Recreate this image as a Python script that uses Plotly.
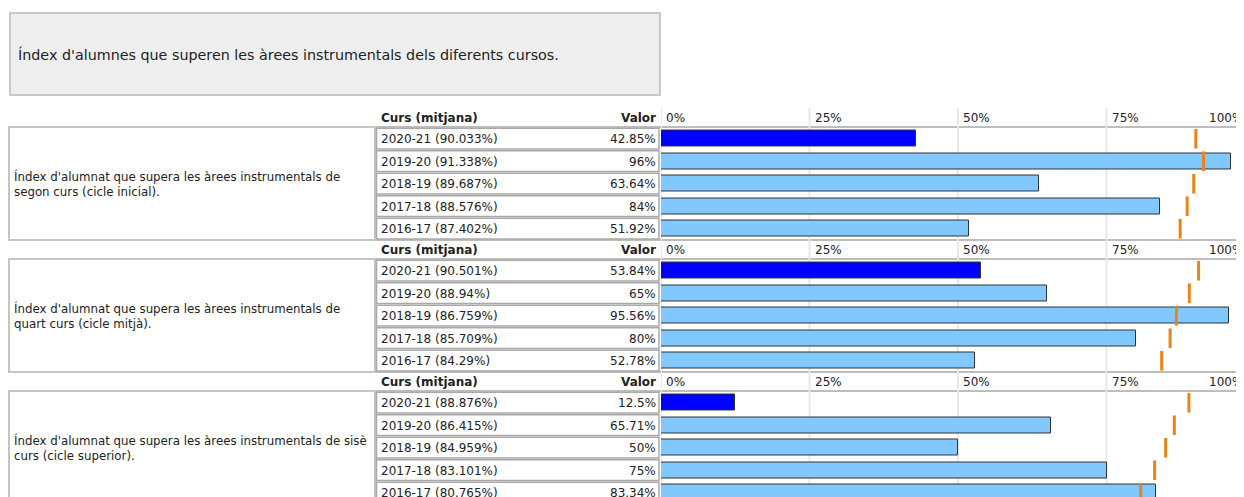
import plotly.graph_objects as go

# the page body has an 8px margin, so the figure is sized to fit the window
OFF = 8
SCREEN_W, SCREEN_H = 1244, 497
W, H = SCREEN_W - OFF, SCREEN_H - OFF

title_text = "Índex d'alumnes que superen les àrees instrumentals dels diferents cursos."
group_labels = [
    "Índex d'alumnat que supera les àrees instrumentals de<br>segon curs (cicle inicial).",
    "Índex d'alumnat que supera les àrees instrumentals de<br>quart curs (cicle mitjà).",
    "Índex d'alumnat que supera les àrees instrumentals de sisè<br>curs (cicle superior).",
]
years = ["2020-21", "2019-20", "2018-19", "2017-18", "2016-17"]
values_g1 = [42.85, 96, 63.64, 84, 51.92]
means_g1 = [90.033, 91.338, 89.687, 88.576, 87.402]
values_g2 = [53.84, 65, 95.56, 80, 52.78]
means_g2 = [90.501, 88.94, 86.759, 85.709, 84.29]
values_g3 = [12.5, 65.71, 50, 75, 83.34]
means_g3 = [88.876, 86.415, 84.959, 83.101, 80.765]
tick_vals = [0, 25, 50, 75, 100]
tick_text = ["0%", "25%", "50%", "75%", "100%"]
header_curs = "Curs (mitjana)"
header_valor = "Valor"

groups = [(values_g1, means_g1), (values_g2, means_g2), (values_g3, means_g3)]

FONT = "DejaVu Sans"
FS = 12
TXT = "#222222"
DARK_BLUE = "#0000ff"
LIGHT_BLUE = "#80c8ff"
ORANGE = "#e8841a"

# layout geometry (screen pixels)
X0_PX = 661.0          # 0% position
PX_PER_100 = 594.0     # pixels for 100%
ROW_P = 22.5           # row pitch
GROUP_P = 132.0
ROWS_TOP = 127.5       # top of first group's data rows


def px(x):
    return (x - OFF) / W


def py(y):
    return 1 - (y - OFF) / H


fig = go.Figure()
shapes = []
annotations = []

xmax = (SCREEN_W - X0_PX) / PX_PER_100 * 100

layout_axes = {}
for g, (vals, means) in enumerate(groups):
    top = ROWS_TOP + GROUP_P * g
    bottom = min(top + 5 * ROW_P, SCREEN_H)
    yname = "y" if g == 0 else f"y{g+1}"
    yax = "yaxis" if g == 0 else f"yaxis{g+1}"
    layout_axes[yax] = dict(
        domain=[max(py(bottom), 0), py(top)],
        range=[-0.5 + (bottom - top) / ROW_P, -0.5],
        type="category",
        categoryorder="array",
        categoryarray=years,
        visible=False,
        fixedrange=True,
    )
    colors = [DARK_BLUE] + [LIGHT_BLUE] * (len(years) - 1)
    fig.add_trace(go.Bar(
        x=vals, y=years, orientation="h", xaxis="x", yaxis=yname,
        marker=dict(color=colors, line=dict(color="#333333", width=1)),
        width=0.72, showlegend=False, hoverinfo="skip",
    ))
    fig.add_trace(go.Scatter(
        x=means, y=years, mode="markers", xaxis="x", yaxis=yname,
        marker=dict(symbol="line-ns", size=14, line=dict(color=ORANGE, width=3)),
        showlegend=False, hoverinfo="skip", cliponaxis=False,
    ))

    # header row texts
    hy = top - 10
    annotations.append(dict(text=f"<b>{header_curs}</b>", x=px(379), y=py(hy), xref="paper", yref="paper",
                            xanchor="left", yanchor="middle", showarrow=False,
                            font=dict(family=FONT, size=FS, color=TXT)))
    annotations.append(dict(text=f"<b>{header_valor}</b>", x=px(658), y=py(hy), xref="paper", yref="paper",
                            xanchor="right", yanchor="middle", showarrow=False,
                            font=dict(family=FONT, size=FS, color=TXT)))
    for tv, tt in zip(tick_vals, tick_text):
        if tv <= xmax - 5:
            annotations.append(dict(text=tt, x=tv, y=py(hy), xref="x", yref="paper",
                                    xanchor="left", yanchor="middle", xshift=3, showarrow=False,
                                    font=dict(family=FONT, size=FS, color=TXT)))
        else:
            annotations.append(dict(text=tt, x=px(SCREEN_W + 1), y=py(hy), xref="paper", yref="paper",
                                    xanchor="right", yanchor="middle", showarrow=False,
                                    font=dict(family=FONT, size=FS, color=TXT)))

    # group label box
    shapes.append(dict(type="rect", xref="paper", yref="paper", x0=px(9), x1=px(375),
                       y0=py(top - 0.5), y1=py(top + 5 * ROW_P), line=dict(color="#c4c4c4", width=2),
                       layer="below"))
    annotations.append(dict(text=group_labels[g], x=px(12), y=py(top + 2.5 * ROW_P), xref="paper", yref="paper",
                            xanchor="left", yanchor="middle", align="left", showarrow=False,
                            font=dict(family=FONT, size=11.8, color=TXT)))

    # bar area top/bottom lines
    for yy in (top - 0.5, top + 5 * ROW_P):
        shapes.append(dict(type="line", xref="paper", yref="paper", x0=px(376), x1=1,
                           y0=py(yy), y1=py(yy), line=dict(color="#bdbdbd", width=2), layer="below"))

    # row boxes and row texts
    for i, (yr, v, m) in enumerate(zip(years, vals, means)):
        shapes.append(dict(type="rect", xref="paper", yref=yname, x0=px(376.5), x1=px(659),
                           y0=i - 0.5 + 0.03, y1=i + 0.5 - 0.05, line=dict(color="#a9a9a9", width=1.5),
                           layer="below"))
        annotations.append(dict(text=f"{yr} ({m:g}%)", x=px(379), y=yr, xref="paper", yref=yname,
                                xanchor="left", yanchor="middle", showarrow=False, yshift=-0.5,
                                font=dict(family=FONT, size=FS, color=TXT)))
        annotations.append(dict(text=f"{v:g}%", x=px(658), y=yr, xref="paper", yref=yname,
                                xanchor="right", yanchor="middle", showarrow=False, yshift=-0.5,
                                font=dict(family=FONT, size=FS, color=TXT)))

# vertical gridlines
for tv in tick_vals:
    if tv <= xmax:
        shapes.append(dict(type="line", xref="x", yref="paper", x0=tv, x1=tv, y0=py(108), y1=0,
                           line=dict(color="#e8e8e8", width=2), layer="below"))

# title box
shapes.append(dict(type="rect", xref="paper", yref="paper", x0=px(10), x1=px(660), y0=py(13), y1=py(95),
                   fillcolor="#eeeeee", line=dict(color="#c8c8c8", width=2), layer="below"))
annotations.append(dict(text=title_text, x=px(16), y=py(54.5), xref="paper", yref="paper",
                        xanchor="left", yanchor="middle", showarrow=False,
                        font=dict(family=FONT, size=14.3, color=TXT)))

fig.update_layout(
    width=W, height=H,
    margin=dict(l=0, r=0, t=0, b=0, pad=0),
    paper_bgcolor="white", plot_bgcolor="rgba(0,0,0,0)",
    xaxis=dict(domain=[px(X0_PX), 1], range=[0, xmax], visible=False, fixedrange=True),
    shapes=shapes, annotations=annotations,
    barmode="overlay", bargap=0,
    **layout_axes,
)
fig.write_html("out.html", config={"displayModeBar": False})
